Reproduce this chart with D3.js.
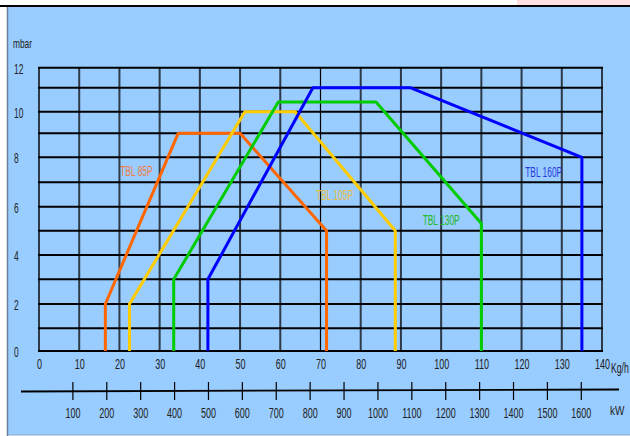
<!DOCTYPE html>
<html>
<head>
<meta charset="utf-8">
<script src="https://cdn.jsdelivr.net/npm/d3@7"></script>
<style>
body { margin: 0; background: #fff; }
text { font-family: "Liberation Sans", Arial, sans-serif; }
</style>
</head>
<body>
<script>
// axis ticks
var flowTicks = [0, 10, 20, 30, 40, 50, 60, 70, 80, 90, 100, 110, 120, 130, 140];
var pressureTicks = [0, 2, 4, 6, 8, 10, 12];
var pressureGrid = [0, 1, 2, 3, 4, 5, 6, 7, 8, 9, 10, 11, 12];
var powerTicks = [100, 200, 300, 400, 500, 600, 700, 800, 900, 1000, 1100, 1200, 1300, 1400, 1500, 1600];

// burner curves (Kg/h , mbar)
var burners = ["TBL 85P", "TBL 105P", "TBL 130P", "TBL 160P"];
var flow85 = [16.5, 16.5, 34.6, 50, 71.5, 71.5];
var mbar85 = [0, 2, 9, 9, 5, 0];
var flow105 = [22.5, 22.5, 51.2, 63.7, 88.6, 88.6];
var mbar105 = [0, 2, 10, 10, 5, 0];
var flow130 = [33.5, 33.5, 59.5, 83.8, 110, 110];
var mbar130 = [0, 3, 10.4, 10.4, 5.3, 0];
var flow160 = [42, 42, 68.1, 92.3, 135, 135];
var mbar160 = [0, 3, 11, 11, 8, 0];
// where each name is written (Kg/h , mbar)
var labelFlow = [20.2, 68.9, 95.4, 120.9];
var labelMbar = [7.25, 6.27, 5.24, 7.23];

var svgWidth = 630, svgHeight = 436;
var narrow = 0.6;   // the printed lettering is very condensed

var svg = d3.select("body").append("svg")
    .attr("width", svgWidth)
    .attr("height", svgHeight);

// squeezed text at (px, py)
function label(px, py, size, color, str, k){
  return svg.append("text")
    .attr("transform", "translate(" + px + "," + py + ") scale(" + (k || narrow) + ",1)")
    .attr("font-size", size)
    .attr("fill", color)
    .text(str);
}

// page frame
svg.append("rect").attr("x", 517).attr("y", 0).attr("width", 113).attr("height", 6).attr("fill", "#ffe0e0");
svg.append("rect").attr("x", 8).attr("y", 7).attr("width", 622).attr("height", 428).attr("fill", "#99ccff");
svg.append("line").attr("x1", 0).attr("x2", 630).attr("y1", 6).attr("y2", 6).attr("stroke", "#000").attr("stroke-width", 2);
svg.append("line").attr("x1", 7.5).attr("x2", 7.5).attr("y1", 7).attr("y2", 436).attr("stroke", "#6a7f99").attr("stroke-width", 1.5);
svg.append("line").attr("x1", 8).attr("x2", 630).attr("y1", 435).attr("y2", 435).attr("stroke", "#8aa6c4").attr("stroke-width", 1);

var x = d3.scaleLinear().domain([0, 140]).range([39, 602]);
// the printed grid is not evenly spaced, so map each mbar line
var y = d3.scaleLinear()
    .domain(pressureGrid)
    .range([351, 328.3, 304, 279.3, 255, 230.7, 206.7, 182.3, 157.3, 133.3, 111.7, 87.7, 67.7]);
var kw = d3.scaleLinear().domain([0, 1600]).range([39, 581.3]);

// grid
svg.append("g").selectAll("line")
  .data(flowTicks)
  .enter()
  .append("line")
  .attr("x1", function(d){ return x(d); })
  .attr("x2", function(d){ return x(d); })
  .attr("y1", y(12))
  .attr("y2", y(0))
  .attr("stroke", function(d){ return d == 70 ? "#000" : "#2e3a48"; })
  .attr("stroke-width", function(d){ return d == 70 ? 1.2 : 2; });

svg.append("g").selectAll("line")
  .data(pressureGrid)
  .enter()
  .append("line")
  .attr("x1", x(0) - 1)
  .attr("x2", x(140) + 1)
  .attr("y1", function(d){ return y(d); })
  .attr("y2", function(d){ return y(d); })
  .attr("stroke", "#000")
  .attr("stroke-width", 2);

// Kg/h axis labels
var xAxis = svg.append("g")
  .attr("transform", "translate(0," + y(0) + ")")
  .call(d3.axisBottom(x).tickValues(flowTicks).tickSize(0).tickPadding(7));
xAxis.select(".domain").remove();
xAxis.selectAll("text")
  .attr("font-size", 15)
  .attr("fill", "#222")
  .attr("transform", "scale(" + narrow + ",1)")
  .style("font-family", "'Liberation Sans',Arial,sans-serif");

label(611, 373, 14.5, "#222", "Kg/h");

// mbar axis labels
var yAxis = svg.append("g")
  .call(d3.axisLeft(y).tickValues(pressureTicks).tickSize(0).tickPadding(0));
yAxis.select(".domain").remove();
yAxis.selectAll("text")
  .attr("x", 14 / narrow)
  .attr("dy", "0.4em")
  .attr("text-anchor", "start")
  .attr("font-size", 14)
  .attr("fill", "#222")
  .attr("transform", "scale(" + narrow + ",1)")
  .style("font-family", "'Liberation Sans',Arial,sans-serif");

label(13, 48, 13, "#222", "mbar", 0.64);

// kW scale under the chart
svg.append("line").attr("x1", 21).attr("x2", 619).attr("y1", 391.5).attr("y2", 389.5)
  .attr("stroke", "#000").attr("stroke-width", 1.8);

svg.append("g").selectAll("line")
  .data(powerTicks)
  .enter()
  .append("line")
  .attr("x1", function(d){ return kw(d); })
  .attr("x2", function(d){ return kw(d); })
  .attr("y1", 382)
  .attr("y2", 400)
  .attr("stroke", "#000")
  .attr("stroke-width", 1.2);

svg.append("g").selectAll("text")
  .data(powerTicks)
  .enter()
  .append("text")
  .attr("transform", function(d){ return "translate(" + kw(d) + ",418) scale(" + narrow + ",1)"; })
  .attr("text-anchor", "middle")
  .attr("font-size", 15)
  .attr("fill", "#222")
  .text(function(d){ return d; });

label(610, 415, 12.5, "#222", "kW", 0.8);

// curves
var series = [
  {flow: flow85, mbar: mbar85, color: "#ff6600", text: "#f07a40"},
  {flow: flow105, mbar: mbar105, color: "#ffcc00", text: "#e8c040"},
  {flow: flow130, mbar: mbar130, color: "#00cc00", text: "#22bb22"},
  {flow: flow160, mbar: mbar160, color: "#0000ff", text: "#2a3ae0"}
];

var line = d3.line()
  .x(function(d){ return x(d[0]); })
  .y(function(d){ return y(d[1]); });

series.forEach(function(s, i){
  var pts = s.flow.map(function(f, j){ return [f, s.mbar[j]]; });
  svg.append("path")
    .attr("d", line(pts))
    .attr("fill", "none")
    .attr("stroke", s.color)
    .attr("stroke-width", 3)
    .attr("stroke-linejoin", "round");

  label(x(labelFlow[i]), y(labelMbar[i]), 14, s.text, burners[i]);
});
</script>
</body>
</html>
